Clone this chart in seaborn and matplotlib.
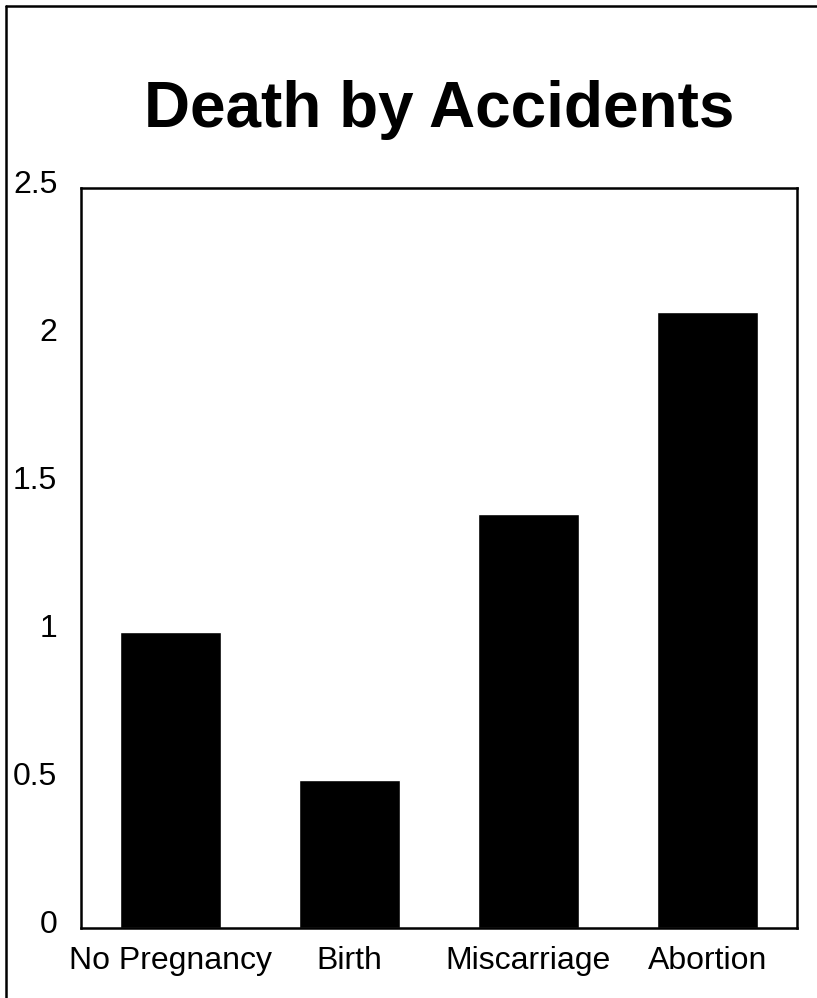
import matplotlib
matplotlib.use("Agg")
import matplotlib.pyplot as plt
import matplotlib.transforms as mtransforms
from matplotlib.lines import Line2D
import seaborn as sns
import pandas as pd

# chart data
categories = ["No Pregnancy", "Birth", "Miscarriage", "Abortion"]
values = [1.0, 0.5, 1.4, 2.08]
y_ticks = [0, 0.5, 1, 1.5, 2, 2.5]
y_tick_labels = ["0", "0.5", "1", "1.5", "2", "2.5"]

df = pd.DataFrame({"category": categories, "value": values})

sns.set_style("white")
plt.rcParams["font.family"] = ["Liberation Sans", "DejaVu Sans"]
plt.rcParams["text.color"] = "black"

fig = plt.figure(figsize=(8.17, 9.98), dpi=100)
ax = fig.add_axes([0.0991, 0.0701, 0.8764, 0.7415])

sns.barplot(data=df, x="category", y="value", color="black", width=0.56,
            saturation=1, ax=ax)

ax.set_ylim(0, 2.5)
ax.set_yticks(y_ticks)
ax.set_yticklabels(y_tick_labels)
ax.set_xlabel("")
ax.set_ylabel("")
ax.tick_params(axis="both", length=0, labelsize=23, colors="black")
ax.tick_params(axis="y", pad=17)
ax.tick_params(axis="x", pad=13)

# y labels sit slightly above their gridline in the original
for lab in ax.get_yticklabels():
    lab.set_transform(lab.get_transform() +
                      mtransforms.ScaledTranslation(0, 0.07, fig.dpi_scale_trans))

for sp in ax.spines.values():
    sp.set_visible(True)
    sp.set_color("black")
    sp.set_linewidth(1.8)

ax.set_title("Death by Accidents", fontsize=46, fontweight="bold", pad=44,
             color="black")

# outer frame (left and top edges visible)
fig.add_artist(Line2D([6 / 817, 6 / 817], [0, 1 - 6 / 998], transform=fig.transFigure,
                      color="black", linewidth=1.8))
fig.add_artist(Line2D([6 / 817, 1], [1 - 6 / 998, 1 - 6 / 998], transform=fig.transFigure,
                      color="black", linewidth=1.8))

fig.savefig("out.png", dpi=100)
